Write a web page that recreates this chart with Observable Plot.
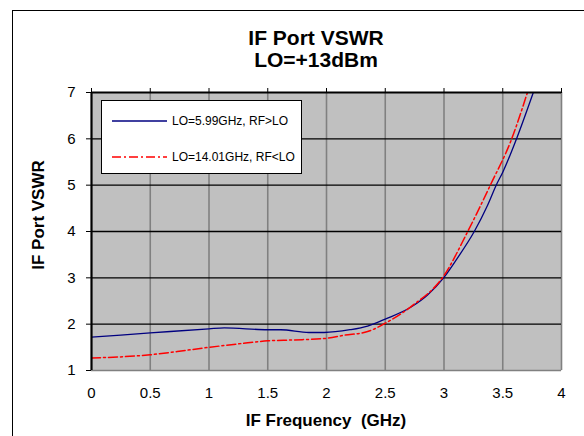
<!DOCTYPE html>
<html>
<head>
<meta charset="utf-8">
<script src="https://cdn.jsdelivr.net/npm/d3@7"></script>
<script src="https://cdn.jsdelivr.net/npm/@observablehq/plot@0.6"></script>
<style>
  html, body { margin: 0; padding: 0; background: #fff; overflow: hidden; }
  #wrap { position: relative; width: 584px; height: 436px; overflow: hidden; font-family: Arial, "Liberation Sans", sans-serif; }
  #border { position: absolute; left: 12px; top: 10px; width: 700px; height: 600px; border: 1px solid #000; box-sizing: border-box; }
  #chart { position: absolute; left: 0; top: 0; }
  #legend { position: absolute; left: 101px; top: 100px; width: 201px; height: 74px; box-sizing: border-box;
            border: 1px solid #000; background: #fff; font-size: 12px; color: #000; }
  .row { position: absolute; left: 0; height: 14px; display: flex; align-items: center; white-space: nowrap; }
  .row svg { margin-left: 10px; margin-right: 5px; }
</style>
</head>
<body>
<div id="wrap">
  <div id="border"></div>
  <div id="chart"></div>
  <div id="legend"></div>
</div>
<script>
// ---- data ----
const seriesNames = ["LO=5.99GHz, RF>LO", "LO=14.01GHz, RF<LO"];
const blueX = [0, 0.5, 1.0, 1.13, 1.5, 1.61, 1.85, 1.98, 2.2, 2.35, 2.5, 2.72, 2.86, 3.0, 3.11, 3.26, 3.37, 3.45, 3.5, 3.62, 3.76];
const blueY = [1.72, 1.81, 1.90, 1.92, 1.88, 1.88, 1.82, 1.82, 1.88, 1.96, 2.11, 2.37, 2.63, 3.01, 3.41, 4.01, 4.56, 5.03, 5.28, 6.02, 7.0];
const redX = [0, 0.5, 0.73, 1.0, 1.27, 1.5, 1.72, 1.98, 2.15, 2.35, 2.5, 2.72, 3.0, 3.2, 3.4, 3.57, 3.71];
const redY = [1.27, 1.34, 1.41, 1.50, 1.58, 1.64, 1.66, 1.69, 1.76, 1.84, 2.02, 2.38, 3.05, 3.99, 5.03, 5.96, 7.0];
const xTicks = [0, 0.5, 1, 1.5, 2, 2.5, 3, 3.5, 4];
const yTicks = [1, 2, 3, 4, 5, 6, 7];
const titleLines = ["IF Port VSWR", "LO=+13dBm"];
const xLabel = "IF Frequency\u00a0\u00a0(GHz)";
const yLabel = "IF Port VSWR";
const colors = ["#000080", "#ff0000"];
const dashes = [null, "9,3,2,3"];

const blue = blueX.map((x, i) => ({x, y: blueY[i]}));
const red = redX.map((x, i) => ({x, y: redY[i]}));

const plot = Plot.plot({
  width: 584,
  height: 436,
  marginLeft: 91,
  marginRight: 23,
  marginTop: 92,
  marginBottom: 66,
  style: {fontFamily: "Arial, 'Liberation Sans', sans-serif", background: "transparent", color: "#000"},
  x: {domain: [0, 4]},
  y: {domain: [1, 7]},
  marks: [
    Plot.frame({fill: "#c0c0c0", stroke: "none"}),
    Plot.ruleX(xTicks.slice(1), {stroke: "#808080", strokeWidth: 1.6}),
    Plot.ruleY([1], {stroke: "#808080", strokeWidth: 1.6}),
    Plot.ruleY(yTicks.slice(1, -1), {stroke: "#000", strokeWidth: 1.3}),
    Plot.line(blue, {x: "x", y: "y", stroke: colors[0], strokeWidth: 1.3, curve: "monotone-x", clip: true}),
    Plot.line(red, {x: "x", y: "y", stroke: colors[1], strokeWidth: 1.5, strokeDasharray: dashes[1], curve: "monotone-x", clip: true}),
    Plot.ruleY([7], {stroke: "#000", strokeWidth: 2.2}),
    Plot.ruleX([0], {stroke: "#000", strokeWidth: 2.2}),
    Plot.axisY({ticks: yTicks, tickSize: 5, tickPadding: 11, fontSize: 15, label: null, tickFormat: d => String(d)}),
    Plot.axisX({ticks: xTicks, tickSize: 0, tickPadding: 17, fontSize: 15, label: null, tickFormat: d => String(d)}),
    Plot.axisX({anchor: "top", ticks: xTicks, tickSize: 5, label: null, tickFormat: () => ""})
  ]
});
document.getElementById("chart").appendChild(plot);

// titles as real SVG text
const svg = d3.select(plot);
const t = svg.append("g").attr("font-weight", "bold").attr("fill", "#000");
t.append("text").attr("x", 316).attr("y", 45).attr("text-anchor", "middle").attr("font-size", 21).text(titleLines[0]);
t.append("text").attr("x", 316).attr("y", 66.5).attr("text-anchor", "middle").attr("font-size", 21).text(titleLines[1]);
t.append("text").attr("x", 326).attr("y", 425.5).attr("text-anchor", "middle").attr("font-size", 17).text(xLabel);
t.append("text").attr("transform", "translate(44,215) rotate(-90)").attr("text-anchor", "middle").attr("font-size", 17).text(yLabel);

// legend
const legend = d3.select("#legend");
const rowsY = [13, 49];
seriesNames.forEach((name, i) => {
  const row = legend.append("div").attr("class", "row").style("top", rowsY[i] + "px");
  const s = row.append("svg").attr("width", 55).attr("height", 6);
  s.append("line").attr("x1", 0).attr("x2", 55).attr("y1", 3).attr("y2", 3)
    .attr("stroke", colors[i]).attr("stroke-width", i ? 1.5 : 1.3)
    .attr("stroke-dasharray", dashes[i]);
  row.append("span").text(name);
});
</script>
</body>
</html>
